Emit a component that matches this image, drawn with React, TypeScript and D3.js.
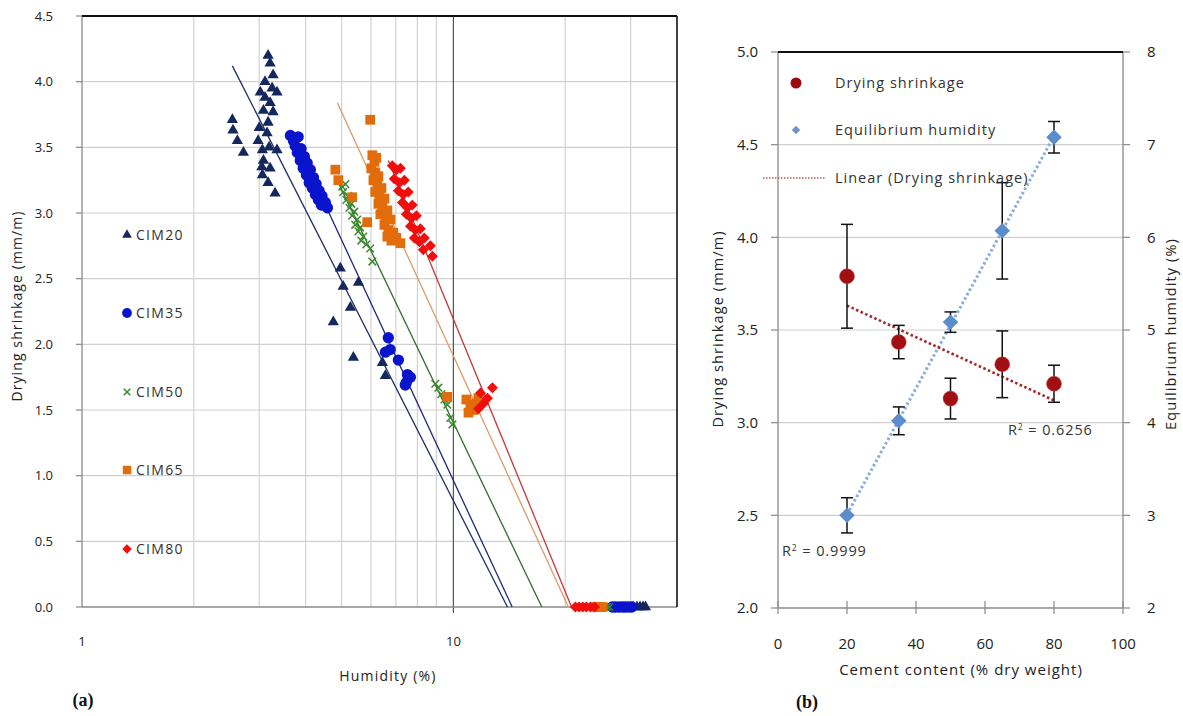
import React from "react";
import * as d3 from "d3";

const W = 1183;
const H = 716;
const FONT = "'Open Sans', 'Liberation Sans', sans-serif";

// ---------- Panel (a): drying shrinkage vs humidity (log x) ----------
const cim20: [number, number][] = [
  [3.17, 4.2], [3.21, 4.14], [3.27, 4.05], [3.11, 4.0], [3.35, 3.92], [3.02, 3.92],
  [3.11, 3.88], [3.21, 3.84], [3.27, 3.77], [3.08, 3.78], [3.17, 3.69], [3.15, 3.61],
  [2.98, 3.55], [3.35, 3.48], [3.06, 3.48], [3.08, 3.4], [3.21, 3.34], [3.06, 3.29],
  [3.17, 3.23], [3.31, 3.15], [3.0, 3.65], [3.25, 3.95], [3.05, 3.35], [3.19, 3.5],
  [2.54, 3.71], [2.55, 3.63], [2.62, 3.55], [2.72, 3.46],
  [4.96, 2.58], [5.05, 2.44], [5.55, 2.47], [5.28, 2.28], [4.75, 2.17], [5.38, 1.9],
  [6.44, 1.86], [6.56, 1.76],
  [30.5, 0], [31.2, 0], [31.8, 0], [32.4, 0], [32.9, 0],
];
const cim35: [number, number][] = [
  [3.64, 3.59], [3.71, 3.55], [3.82, 3.58], [3.75, 3.51], [3.89, 3.49], [3.8, 3.46],
  [3.97, 3.43], [3.87, 3.4], [4.04, 3.38], [3.94, 3.34], [4.12, 3.33], [4.02, 3.29],
  [4.2, 3.27], [4.09, 3.23], [4.27, 3.22], [4.17, 3.19], [4.35, 3.17], [4.25, 3.14],
  [4.43, 3.13], [4.33, 3.1], [4.52, 3.08], [4.41, 3.06], [4.58, 3.04],
  [6.68, 2.05], [6.56, 1.94], [6.76, 1.96], [7.11, 1.88], [7.52, 1.77], [7.66, 1.75],
  [7.42, 1.69], [7.47, 1.71],
  [26.8, 0], [27.3, 0], [27.9, 0], [28.5, 0], [29.0, 0], [29.6, 0], [30.2, 0],
];
const cim50: [number, number][] = [
  [4.9, 3.25], [5.02, 3.2], [5.12, 3.22], [5.05, 3.16], [5.21, 3.13], [5.15, 3.1],
  [5.31, 3.07], [5.25, 3.04], [5.41, 3.01], [5.34, 2.98], [5.51, 2.95], [5.44, 2.91],
  [5.61, 2.89], [5.55, 2.86], [5.72, 2.82], [5.65, 2.79], [5.83, 2.76], [5.97, 2.73],
  [6.05, 2.63],
  [8.94, 1.7], [9.11, 1.67], [9.28, 1.62], [9.46, 1.58], [9.63, 1.54], [9.81, 1.44],
  [9.94, 1.39],
  [25.5, 0], [25.9, 0], [26.3, 0],
];
const cim65: [number, number][] = [
  [5.97, 3.71], [6.05, 3.44], [6.13, 3.39], [6.2, 3.42], [6.01, 3.34], [6.16, 3.31],
  [6.28, 3.28], [6.09, 3.25], [6.24, 3.21], [6.4, 3.19], [6.16, 3.16], [6.32, 3.13],
  [6.52, 3.11], [6.28, 3.07], [6.44, 3.04], [6.64, 3.02], [6.36, 2.99], [6.56, 2.96],
  [6.77, 2.95], [6.52, 2.91], [6.68, 2.87], [6.89, 2.85], [6.64, 2.82], [6.81, 2.79],
  [7.02, 2.81], [7.2, 2.77], [4.81, 3.33], [4.9, 3.25], [5.34, 3.12], [5.86, 2.93],
  [9.63, 1.6], [10.84, 1.58], [11.11, 1.54], [11.32, 1.5], [11.53, 1.55], [10.98, 1.48],
  [11.68, 1.59],
  [24.3, 0], [24.8, 0], [25.2, 0],
];
const cim80: [number, number][] = [
  [6.85, 3.36], [7.02, 3.33], [7.2, 3.34], [6.93, 3.26], [7.15, 3.23], [7.38, 3.25],
  [7.11, 3.17], [7.33, 3.14], [7.56, 3.16], [7.29, 3.08], [7.52, 3.04], [7.75, 3.06],
  [7.47, 2.99], [7.71, 2.96], [7.95, 2.98], [7.66, 2.9], [7.9, 2.87], [8.15, 2.88],
  [7.85, 2.81], [8.1, 2.78], [8.35, 2.81], [8.3, 2.72], [8.67, 2.75], [8.78, 2.67],
  [11.83, 1.63], [12.74, 1.67], [12.35, 1.59], [12.05, 1.55], [11.68, 1.51],
  [21.3, 0], [21.8, 0], [22.3, 0], [22.8, 0], [23.4, 0], [24.0, 0],
];

// Logarithmic trend lines (endpoints in data units)
const trend20: [number, number][] = [[2.54, 4.12], [13.98, 0]];
const trend35: [number, number][] = [[3.7, 3.59], [14.4, 0]];
const trend50: [number, number][] = [[4.9, 3.23], [17.3, 0]];
const trend65: [number, number][] = [[4.87, 3.84], [20.4, 0]];
const trend80: [number, number][] = [[6.68, 3.4], [20.8, 0]];

const seriesNames = ["CIM20", "CIM35", "CIM50", "CIM65", "CIM80"];
const leftYTicks = [0, 0.5, 1, 1.5, 2, 2.5, 3, 3.5, 4, 4.5];
const leftXLabels = [1, 10];
const leftXGrid = [2, 3, 4, 5, 6, 7, 8, 9, 20, 30];

// ---------- Panel (b): shrinkage and equilibrium humidity vs cement ----------
const cementContent = [20, 35, 50, 65, 80];
const dryingShrinkage = [3.79, 3.435, 3.13, 3.315, 3.21];
const shrinkageError = [0.28, 0.09, 0.11, 0.18, 0.1];
const equilibriumHumidity = [3.0, 4.02, 5.085, 6.07, 7.08];
const humidityError = [0.19, 0.15, 0.11, 0.52, 0.17];
const rightXTicks = [0, 20, 40, 60, 80, 100];
const rightYTicks = [2, 2.5, 3, 3.5, 4, 4.5, 5];
const rightY2Ticks = [2, 3, 4, 5, 6, 7, 8];

// Scales
const xL = d3.scaleLog().domain([1, 40]).range([82, 677]);
const yL = d3.scaleLinear().domain([0, 4.5]).range([607, 16]);
const xR = d3.scaleLinear().domain([0, 100]).range([778, 1123]);
const yR = d3.scaleLinear().domain([2, 5]).range([608, 52]);
const yR2 = d3.scaleLinear().domain([2, 8]).range([608, 52]);

type MarkerKind = "triangle" | "circle" | "cross" | "square" | "diamond";
const seriesStyle: Record<string, { color: string; line: string; kind: MarkerKind }> = {
  CIM20: { color: "#15285e", line: "#1d2f66", kind: "triangle" },
  CIM35: { color: "#0a14cc", line: "#1b2a78", kind: "circle" },
  CIM50: { color: "#3b8a2e", line: "#2f6e2a", kind: "cross" },
  CIM65: { color: "#e36c0a", line: "#dd9a66", kind: "square" },
  CIM80: { color: "#f20d0d", line: "#c8383a", kind: "diamond" },
};

const seriesData: Record<string, [number, number][]> = {
  CIM20: cim20, CIM35: cim35, CIM50: cim50, CIM65: cim65, CIM80: cim80,
};
const seriesTrend: Record<string, [number, number][]> = {
  CIM20: trend20, CIM35: trend35, CIM50: trend50, CIM65: trend65, CIM80: trend80,
};

function markerPath(kind: MarkerKind, scale = 1): string {
  switch (kind) {
    case "triangle":
      return d3.symbol(d3.symbolTriangle, 55 * scale)()!;
    case "circle":
      return d3.symbol(d3.symbolCircle, 100 * scale)()!;
    case "square":
      return d3.symbol(d3.symbolSquare, 95 * scale)()!;
    case "diamond":
      return d3.symbol(d3.symbolSquare, 60 * scale)()!;
    case "cross": {
      const s = 3.8 * Math.sqrt(scale);
      return `M${-s},${-s}L${s},${s}M${-s},${s}L${s},${-s}`;
    }
  }
}

function Marker({ kind, color, x, y, scale = 1 }: { kind: MarkerKind; color: string; x: number; y: number; scale?: number }) {
  const d = markerPath(kind, scale);
  if (kind === "cross") {
    return <path d={d} transform={`translate(${x},${y})`} fill="none" stroke={color} strokeWidth={1.5} />;
  }
  const rot = kind === "diamond" ? " rotate(45)" : "";
  return <path d={d} transform={`translate(${x},${y})${rot}`} fill={color} />;
}

function linearFit(xs: number[], ys: number[]) {
  const mx = d3.mean(xs)!;
  const my = d3.mean(ys)!;
  let sxy = 0;
  let sxx = 0;
  xs.forEach((x, i) => {
    sxy += (x - mx) * (ys[i] - my);
    sxx += (x - mx) * (x - mx);
  });
  const slope = sxy / sxx;
  return (x: number) => my + slope * (x - mx);
}

function PanelA() {
  const line = d3.line<[number, number]>().x((d) => xL(d[0])).y((d) => yL(d[1]));
  const legendY = [235, 313, 392, 470, 549];
  const [x0, x1] = xL.range();
  const [y0, y1] = yL.range();
  return (
    <g fontFamily={FONT}>
      {/* grid */}
      {leftYTicks.filter((t) => t > 0 && t < 4.5).map((t) => (
        <line key={`gy${t}`} x1={x0} x2={x1} y1={yL(t)} y2={yL(t)} stroke="#cfcfcf" strokeWidth={1.2} />
      ))}
      {leftXGrid.map((t) => (
        <line key={`gx${t}`} x1={xL(t)} x2={xL(t)} y1={y1} y2={y0} stroke="#d2d2d2" strokeWidth={1.2} />
      ))}
      <line x1={xL(10)} x2={xL(10)} y1={y1} y2={y0 + 6} stroke="#555" strokeWidth={1.2} />
      {/* axes and frame */}
      <line x1={x0} x2={x0} y1={y1} y2={y0} stroke="#8a8a8a" strokeWidth={1.3} />
      <line x1={x0} x2={x1} y1={y0} y2={y0} stroke="#8a8a8a" strokeWidth={1.3} />
      <line x1={x0} x2={x1} y1={y1} y2={y1} stroke="#111" strokeWidth={2} />
      <line x1={x1} x2={x1} y1={y1} y2={y0} stroke="#111" strokeWidth={1.6} />
      {leftYTicks.map((t) => (
        <g key={`ty${t}`}>
          <line x1={x0 - 6} x2={x0} y1={yL(t)} y2={yL(t)} stroke="#8a8a8a" strokeWidth={1.2} />
          <text x={53} y={yL(t)} dy="0.35em" textAnchor="end" fontSize={13} fill="#222">
            {d3.format(".1f")(t)}
          </text>
        </g>
      ))}
      {leftXLabels.map((t) => (
        <text key={`tx${t}`} x={xL(t)} y={646} textAnchor="middle" fontSize={13} fill="#222">
          {t}
        </text>
      ))}
      {/* trend lines */}
      {seriesNames.map((n) => (
        <path key={`tl${n}`} d={line(seriesTrend[n])!} fill="none" stroke={seriesStyle[n].line} strokeWidth={1.3} />
      ))}
      {/* points */}
      {seriesNames.map((n) => (
        <g key={`pts${n}`}>
          {seriesData[n].map((d, i) => (
            <Marker key={i} kind={seriesStyle[n].kind} color={seriesStyle[n].color} x={xL(d[0])} y={yL(d[1])} />
          ))}
        </g>
      ))}
      {/* legend */}
      {seriesNames.map((n, i) => (
        <g key={`lg${n}`}>
          <Marker kind={seriesStyle[n].kind} color={seriesStyle[n].color} x={127} y={legendY[i]} scale={0.75} />
          <text x={136} y={legendY[i]} dy="0.36em" fontSize={14} fill="#333" letterSpacing={1.3}>
            {n}
          </text>
        </g>
      ))}
      {/* titles */}
      <text transform={`translate(22,${306}) rotate(-90)`} textAnchor="middle" fontSize={14} fill="#222" letterSpacing={1.1}>
        Drying shrinkage  (mm/m)
      </text>
      <text x={388} y={681} textAnchor="middle" fontSize={14} fill="#222" letterSpacing={1.2}>
        Humidity  (%)
      </text>
      <text x={83} y={706} textAnchor="middle" fontSize={18} fontWeight="bold" fontFamily="'Liberation Serif', 'DejaVu Serif', serif" fill="#111">
        (a)
      </text>
    </g>
  );
}

function PanelB() {
  const [x0, x1] = xR.range();
  const [y0, y1] = yR.range();
  const fitS = linearFit(cementContent, dryingShrinkage);
  const fitH = linearFit(cementContent, equilibriumHumidity);
  const xMin = d3.min(cementContent)!;
  const xMax = d3.max(cementContent)!;
  const diamond = d3.symbol(d3.symbolSquare, 120)()!;
  const diamondSmall = d3.symbol(d3.symbolSquare, 36)()!;
  return (
    <g fontFamily={FONT}>
      {rightYTicks.filter((t) => t > 2 && t < 5).map((t) => (
        <line key={`g${t}`} x1={x0} x2={x1} y1={yR(t)} y2={yR(t)} stroke="#cfcfcf" strokeWidth={1.2} />
      ))}
      <line x1={x0} x2={x0} y1={y1} y2={y0} stroke="#8a8a8a" strokeWidth={1.3} />
      <line x1={x1} x2={x1} y1={y1} y2={y0} stroke="#8a8a8a" strokeWidth={1.3} />
      <line x1={x0} x2={x1} y1={y0} y2={y0} stroke="#8a8a8a" strokeWidth={1.3} />
      <line x1={x0} x2={x1} y1={y1} y2={y1} stroke="#111" strokeWidth={2} />
      {rightYTicks.map((t) => (
        <g key={`ly${t}`}>
          <line x1={x0 - 7} x2={x0} y1={yR(t)} y2={yR(t)} stroke="#8a8a8a" strokeWidth={1.2} />
          <text x={758} y={yR(t)} dy="0.35em" textAnchor="end" fontSize={15} fill="#222">
            {d3.format(".1f")(t)}
          </text>
        </g>
      ))}
      {rightY2Ticks.map((t) => (
        <g key={`ry${t}`}>
          <line x1={x1} x2={x1 + 7} y1={yR2(t)} y2={yR2(t)} stroke="#8a8a8a" strokeWidth={1.2} />
          <text x={1147} y={yR2(t)} dy="0.35em" textAnchor="start" fontSize={15} fill="#222">
            {t}
          </text>
        </g>
      ))}
      {rightXTicks.map((t) => (
        <g key={`rx${t}`}>
          <line x1={xR(t)} x2={xR(t)} y1={y0 - 7} y2={y0 + 6} stroke="#8a8a8a" strokeWidth={1.2} />
          <text x={xR(t)} y={649} textAnchor="middle" fontSize={15} fill="#222">
            {t}
          </text>
        </g>
      ))}
      {/* linear trend lines */}
      <line x1={xR(xMin)} y1={yR2(fitH(xMin))} x2={xR(xMax)} y2={yR2(fitH(xMax))} stroke="#86addb" strokeWidth={3} strokeDasharray="2.5 2.5" />
      <line x1={xR(xMin)} y1={yR(fitS(xMin))} x2={xR(xMax)} y2={yR(fitS(xMax))} stroke="#a3262b" strokeWidth={2.6} strokeDasharray="2.5 2.5" />
      {/* error bars */}
      {cementContent.map((c, i) => (
        <g key={`eh${c}`} stroke="#111" strokeWidth={1.5}>
          <line x1={xR(c)} x2={xR(c)} y1={yR2(equilibriumHumidity[i] - humidityError[i])} y2={yR2(equilibriumHumidity[i] + humidityError[i])} />
          <line x1={xR(c) - 6} x2={xR(c) + 6} y1={yR2(equilibriumHumidity[i] - humidityError[i])} y2={yR2(equilibriumHumidity[i] - humidityError[i])} />
          <line x1={xR(c) - 6} x2={xR(c) + 6} y1={yR2(equilibriumHumidity[i] + humidityError[i])} y2={yR2(equilibriumHumidity[i] + humidityError[i])} />
        </g>
      ))}
      {cementContent.map((c, i) => (
        <g key={`es${c}`} stroke="#111" strokeWidth={1.5}>
          <line x1={xR(c)} x2={xR(c)} y1={yR(dryingShrinkage[i] - shrinkageError[i])} y2={yR(dryingShrinkage[i] + shrinkageError[i])} />
          <line x1={xR(c) - 6} x2={xR(c) + 6} y1={yR(dryingShrinkage[i] - shrinkageError[i])} y2={yR(dryingShrinkage[i] - shrinkageError[i])} />
          <line x1={xR(c) - 6} x2={xR(c) + 6} y1={yR(dryingShrinkage[i] + shrinkageError[i])} y2={yR(dryingShrinkage[i] + shrinkageError[i])} />
        </g>
      ))}
      {/* markers */}
      {cementContent.map((c, i) => (
        <path key={`mh${c}`} d={diamond} transform={`translate(${xR(c)},${yR2(equilibriumHumidity[i])}) rotate(45)`} fill="#5b8ccb" />
      ))}
      {cementContent.map((c, i) => (
        <circle key={`ms${c}`} cx={xR(c)} cy={yR(dryingShrinkage[i])} r={7.5} fill="#a20f12" stroke="#c0504d" strokeOpacity={0.5} strokeWidth={1} />
      ))}
      {/* legend */}
      <circle cx={796} cy={83} r={5.5} fill="#9c0a0e" />
      <text x={835} y={83} dy="0.36em" fontSize={14.5} fill="#333" letterSpacing={1}>Drying shrinkage</text>
      <path d={diamondSmall} transform="translate(796,130) rotate(45)" fill="#6b95cc" />
      <text x={835} y={130} dy="0.36em" fontSize={14.5} fill="#333" letterSpacing={1}>Equilibrium  humidity</text>
      <line x1={763} x2={825} y1={178} y2={178} stroke="#b06060" strokeWidth={1.3} strokeDasharray="1.5 1.5" />
      <text x={835} y={178} dy="0.36em" fontSize={14.5} fill="#333" letterSpacing={1}>Linear (Drying  shrinkage)</text>
      {/* R-squared labels */}
      <text x={1008} y={435} fontSize={14.5} fill="#333" letterSpacing={0.9}>
        R<tspan dy={-5} fontSize={8.5}>2</tspan><tspan dy={5}> = 0.6256</tspan>
      </text>
      <text x={782} y={556} fontSize={14.5} fill="#333" letterSpacing={0.9}>
        R<tspan dy={-5} fontSize={8.5}>2</tspan><tspan dy={5}> = 0.9999</tspan>
      </text>
      {/* titles */}
      <text transform={`translate(723,329) rotate(-90)`} textAnchor="middle" fontSize={14.5} fill="#222" letterSpacing={1.1}>
        Drying shrinkage  (mm/m)
      </text>
      <text transform={`translate(1176,334) rotate(-90)`} textAnchor="middle" fontSize={14.5} fill="#222" letterSpacing={1.1}>
        Equilibrium  humidity  (%)
      </text>
      <text x={961} y={675} textAnchor="middle" fontSize={15} fill="#222" letterSpacing={1}>
        Cement content  (% dry weight)
      </text>
      <text x={807} y={708} textAnchor="middle" fontSize={18} fontWeight="bold" fontFamily="'Liberation Serif', 'DejaVu Serif', serif" fill="#111">
        (b)
      </text>
    </g>
  );
}

export default function App() {
  return (
    <svg
      width={W}
      height={H}
      viewBox={`0 0 ${W} ${H}`}
      style={{ position: "absolute", left: 0, top: 0, background: "#fff" }}
    >
      <rect width={W} height={H} fill="#fff" />
      <PanelA />
      <PanelB />
    </svg>
  );
}
